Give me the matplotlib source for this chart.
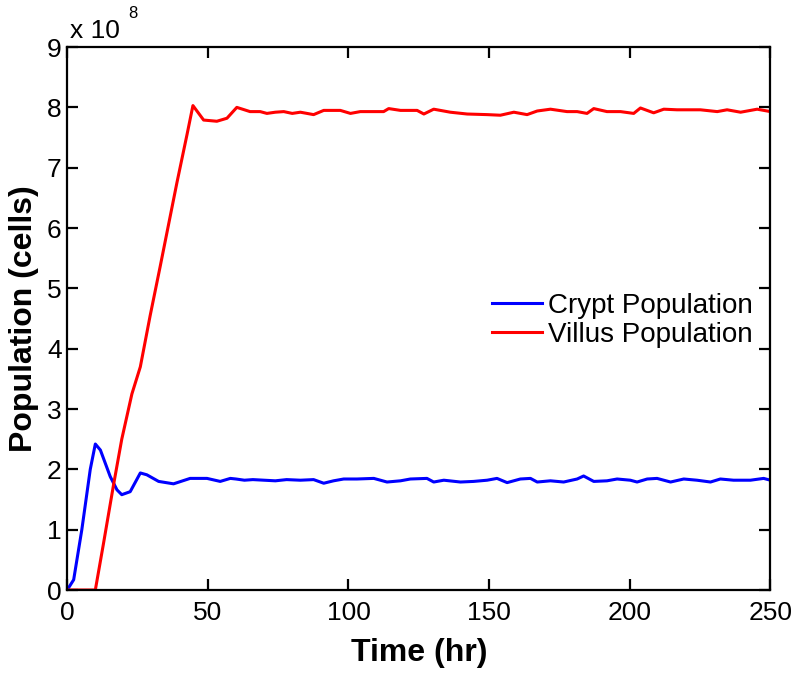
import numpy as np
import matplotlib
matplotlib.use("Agg")
import matplotlib.pyplot as plt

############################## data ##########################################
# time in hours, populations in units of 1e8 cells
crypt_time = [0, 2.3, 5.2, 8.2, 10, 11.8, 15.3, 17.7, 19.4, 22.4, 26, 28.3, 32.5,
              37.8, 43.7, 49.7, 54.4, 58, 60, 63, 66, 70, 74, 78,
              82.9, 87.6, 91.2, 94.7, 98.3, 103.0, 109.0, 113.7, 118.5, 122.0,
              127.9, 130.3, 133.9, 139.8, 144.5, 149.3, 152.8, 156.4, 161.1,
              164.7, 167.1, 171.8, 176.5, 181.3, 183.6, 187.2, 191.9, 195.5,
              200.2, 202.6, 206.2, 209.7, 214.5, 219.2, 223.9, 228.7, 232.2,
              236.9, 242.9, 247.6, 250]
crypt_pop = [0, 0.17, 1.0, 2.0, 2.42, 2.32, 1.88, 1.66, 1.58, 1.63, 1.94, 1.91, 1.80,
             1.76, 1.85, 1.85, 1.80, 1.85, 1.84, 1.82, 1.83, 1.82, 1.81, 1.83,
             1.82, 1.83, 1.77, 1.81, 1.84, 1.84, 1.85, 1.79, 1.81, 1.84,
             1.85, 1.79, 1.82, 1.79, 1.80, 1.82, 1.85, 1.78, 1.84,
             1.85, 1.79, 1.81, 1.79, 1.84, 1.89, 1.80, 1.81, 1.84,
             1.82, 1.79, 1.84, 1.85, 1.79, 1.84, 1.82, 1.79, 1.84,
             1.82, 1.82, 1.85, 1.82]

villus_time = [0, 10, 12.9, 16.5, 19.4, 23, 26, 29.5, 33, 36, 39, 42.6, 44.7,
               48.5, 53.2, 56.8, 60.3, 63, 65, 68.6, 71, 74, 77, 80,
               82.9, 87.6, 91.2, 97.1, 100.7, 104.2, 112.5, 114.3, 118.5,
               124.4, 126.8, 130.3, 136.2, 142.2, 149.3, 154.0, 158.8, 163.5,
               167.1, 171.8, 177.7, 181.3, 184.8, 187.2, 191.9, 196.7, 201.4,
               203.8, 208.5, 212.1, 216.8, 225.1, 231.1, 234.6, 239.4, 245.3, 250]
villus_pop = [0, 0, 0.77, 1.75, 2.5, 3.25, 3.7, 4.55, 5.35, 6.05, 6.75, 7.55, 8.03,
              7.79, 7.77, 7.82, 8.0, 7.96, 7.93, 7.93, 7.90, 7.92, 7.93, 7.90,
              7.92, 7.88, 7.95, 7.95, 7.90, 7.93, 7.93, 7.98, 7.95,
              7.95, 7.89, 7.97, 7.92, 7.89, 7.88, 7.87, 7.92, 7.88,
              7.94, 7.97, 7.93, 7.93, 7.90, 7.98, 7.93, 7.93, 7.90,
              7.99, 7.91, 7.97, 7.96, 7.96, 7.93, 7.96, 7.92, 7.97, 7.93]

x_ticks = [0, 50, 100, 150, 200, 250]
y_ticks = [0, 1, 2, 3, 4, 5, 6, 7, 8, 9]
series_labels = ["Crypt Population", "Villus Population"]
##############################################################################


def main():
    plt.rcParams['font.family'] = ['Liberation Sans', 'DejaVu Sans']

    fig = plt.figure(figsize=(8.0, 6.77), dpi=100)
    ax = fig.add_axes([0.084, 0.1285, 0.879, 0.802])

    ax.plot(crypt_time, crypt_pop, color='#0000ff', lw=2.2, label=series_labels[0])
    ax.plot(villus_time, villus_pop, color='#ff0000', lw=2.2, label=series_labels[1])

    ax.set_xlim(0, 250)
    ax.set_ylim(0, 9)
    ax.set_xticks(x_ticks)
    ax.set_yticks(y_ticks)

    # matlab look : box on, ticks inside
    for s in ax.spines.values():
        s.set_linewidth(1.6)
    ax.tick_params(direction='in', length=8, width=1.6, top=True, right=True,
                   labelsize=19)
    ax.tick_params(axis='x', pad=8)
    ax.tick_params(axis='y', pad=4)

    ax.set_xlabel('Time (hr)', fontsize=23, fontweight='bold', labelpad=9)
    ax.set_ylabel('Population (cells)', fontsize=23, fontweight='bold', labelpad=6)

    # exponent label like matlab
    fig.text(70 / 800, 1 - 38 / 677, 'x 10', fontsize=19, va='baseline')
    fig.text(128 / 800, 1 - 18 / 677, '8', fontsize=12, va='baseline')

    ax.legend(loc='center left', bbox_to_anchor=(0.604, 0.497), frameon=False,
              fontsize=20, handlelength=1.8, handletextpad=0.22, borderpad=0,
              borderaxespad=0, labelspacing=0.1)

    fig.savefig('out.png', dpi=100)


if __name__ == "__main__":
    main()
